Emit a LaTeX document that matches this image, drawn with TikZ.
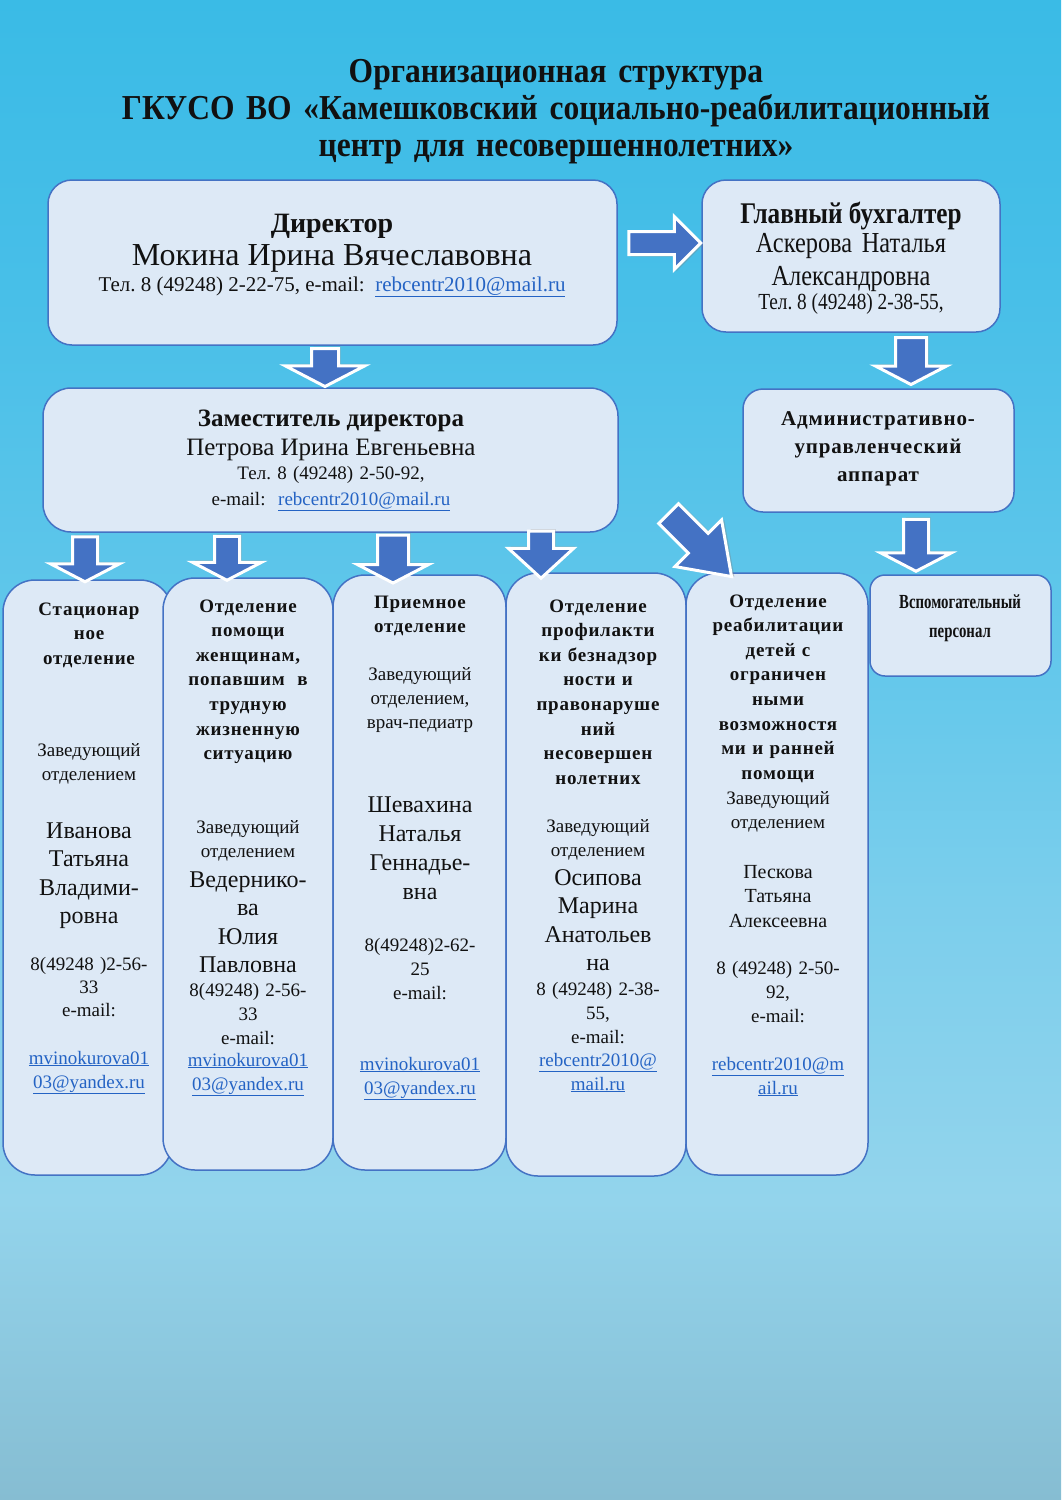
\documentclass[tikz,border=0pt]{standalone}
\usepackage{fontspec}
\setmainfont{Liberation Serif}
\newfontfamily\condfont{Liberation Serif}[FakeStretch=0.84]
\newfontfamily\titlefont{Liberation Serif}[FakeStretch=0.9]
\newfontfamily\narrowfont{Liberation Serif}[FakeStretch=0.74]
\newfontfamily\spacedfont{Liberation Serif}[LetterSpace=4]
\usetikzlibrary{shapes.arrows, shadows, fit}
\definecolor{ink}{HTML}{111111}
\definecolor{boxfill}{HTML}{DDE9F6}
\definecolor{boxline}{HTML}{4472C4}
\definecolor{arrblue}{HTML}{4472C4}
\definecolor{link}{HTML}{2463C4}
\definecolor{bgtop}{HTML}{3ABBE6}
\definecolor{bgup}{HTML}{48BFE8}
\definecolor{bgmid}{HTML}{68C9EB}
\definecolor{bglow}{HTML}{7BCEEC}
\definecolor{bgpale}{HTML}{93D4EC}
\definecolor{bgbot}{HTML}{86BDD2}
\pgfdeclareverticalshading{bgshade}{100bp}{color(0bp)=(bgbot); color(25bp)=(bgbot);
  color(35bp)=(bgpale); color(45bp)=(bglow); color(51bp)=(bgmid); color(65bp)=(bgup);
  color(75bp)=(bgtop); color(100bp)=(bgtop)}
\newcommand\fsz[2]{\fontsize{#1}{#2}\selectfont}
\newcommand\mail[1]{\textcolor{link}{\underline{#1}}}
\tikzset{
  box/.style={draw=boxline, fill=boxfill, line width=1.5pt, rounded corners=24pt, inner sep=0pt},
  colbox/.style={box, rounded corners=32pt},
  txt/.style={text=ink, inner sep=0pt, anchor=base, align=center},
  coltxt/.style={txt, text width=180pt},
  colhead/.style={coltxt, font=\spacedfont\bfseries\fsz{19}{24.6}},
  colbody/.style={coltxt, font=\fsz{19}{24}},
  person/.style={coltxt, font=\fsz{24}{28.6}},
  blk/.style={single arrow, fill=arrblue, draw=white, line width=3pt, inner xsep=0pt,
    single arrow head indent=0pt},
  downblk/.style={blk, rotate=-90,
    drop shadow={shadow xshift=2pt, shadow yshift=2pt, opacity=0.35}}
}

\begin{document}
\begin{tikzpicture}[x=1pt,y=-1pt]

\useasboundingbox (0,0) rectangle (1061,1500);
\fill[shading=bgshade] (0,0) rectangle (1061,1500);

% Title
\node[txt, text width=1000pt, font=\titlefont\bfseries\fsz{35}{37}] (title) at (556,82)
  {Организационная структура\\
   ГКУСО ВО «Камешковский социально-реабилитационный\\
   центр для несовершеннолетних»};

% Top level
\node[box, fit={(48,180) (617,345)}] (dir) {};
\node[txt, font=\bfseries\fsz{28}{30}] (dirt) at (332,232) {Директор};
\node[txt, font=\fsz{32}{33}] (dirn) at (332,265) {Мокина Ирина Вячеславовна};
\node[txt, font=\fsz{21}{22}] (dirc) at (332,291)
  {Тел.\ 8 (49248) 2-22-75, e-mail:\ \ \mail{rebcentr2010@mail.ru}};

\node[box, fit={(702,180) (1000,332)}] (acc) {};
\node[txt, font=\condfont\bfseries\fsz{30}{30}] (acct) at (851,223) {Главный бухгалтер};
\node[txt, text width=280pt, font=\condfont\fsz{29}{33}] (accn) at (851,252)
  {Аскерова Наталья\\Александровна};
\node[txt, font=\condfont\fsz{23}{22}] (accc) at (851,309) {Тел.\ 8 (49248) 2-38-55,};

% Second level
\node[box, rounded corners=28pt, fit={(43,388) (618,532)}] (dep) {};
\node[txt, font=\bfseries\fsz{25}{28}] (dept) at (331,426) {Заместитель директора};
\node[txt, font=\fsz{25}{28}] (depn) at (331,455) {Петрова Ирина Евгеньевна};
\node[txt, font=\fsz{19}{26}, text width=400pt] (depc) at (331,479)
  {Тел.\ 8 (49248) 2-50-92,\\e-mail:\ \ \mail{rebcentr2010@mail.ru}};

\node[box, rounded corners=20pt, fit={(743,389) (1014,512)}] (adm) {};
\node[txt, text width=260pt, font=\spacedfont\bfseries\fsz{21}{28}] (admt) at (878,425)
  {Административно-\\управленческий\\аппарат};

\node[box, rounded corners=15pt, fit={(870,575) (1051,676)}] (aux) {};
\node[txt, text width=170pt, font=\narrowfont\bfseries\fsz{20}{29}] (auxt) at (960,608)
  {Вспомогательный\\персонал};

% Departments
\node[colbox, fit={(3,580) (172,1175)}] (stac) {};
\node[colhead] (stach) at (89,615) {Стационар\\ное\\отделение};
\node[colbody] (stacb) at (89,756) {Заведующий\\отделением};
\node[person] (stacn) at (89,838) {Иванова\\Татьяна\\Владими-\\ровна};
\node[colbody, font=\fsz{19}{23}] (stacp) at (89,970) {8(49248 )2-56-\\33\\e-mail:};
\node[colbody] (stacm) at (89,1064) {\mail{mvinokurova01}\\\mail{03@yandex.ru}};

\node[colbox, fit={(163,578) (333,1170)}] (women) {};
\node[colhead] (womenh) at (248,612)
  {Отделение\\помощи\\женщинам,\\попавшим\ \ в\\трудную\\жизненную\\ситуацию};
\node[colbody] (womenb) at (248,833) {Заведующий\\отделением};
\node[person] (womenn) at (248,887) {Ведернико-\\ва\\Юлия\\Павловна};
\node[colbody] (womenp) at (248,996) {8(49248) 2-56-\\33\\e-mail:};
\node[colbody] (womenm) at (248,1066) {\mail{mvinokurova01}\\\mail{03@yandex.ru}};

\node[colbox, fit={(333,575) (506,1170)}] (recep) {};
\node[colhead] (receph) at (420,608) {Приемное\\отделение};
\node[colbody] (recepb) at (420,680) {Заведующий\\отделением,\\врач-педиатр};
\node[person, font=\fsz{24}{29}] (recepn) at (420,812) {Шевахина\\Наталья\\Геннадье-\\вна};
\node[colbody] (recepp) at (420,951) {8(49248)2-62-\\25\\e-mail:};
\node[colbody] (recepm) at (420,1070) {\mail{mvinokurova01}\\\mail{03@yandex.ru}};

\node[colbox, fit={(506,573) (686,1176)}] (prev) {};
\node[colhead] (prevh) at (598,612)
  {Отделение\\профилакти\\ки безнадзор\\ности и\\правонаруше\\ний\\несовершен\\нолетних};
\node[colbody] (prevb) at (598,832) {Заведующий\\отделением};
\node[person] (prevn) at (598,885) {Осипова\\Марина\\Анатольев\\на};
\node[colbody] (prevp) at (598,995) {8 (49248) 2-38-\\55,\\e-mail:};
\node[colbody] (prevm) at (598,1066) {\mail{rebcentr2010@}\\\mail{mail.ru}};

\node[colbox, fit={(686,573) (868,1175)}] (rehab) {};
\node[colhead] (rehabh) at (778,607)
  {Отделение\\реабилитации\\детей с\\ограничен\\ными\\возможностя\\ми и ранней\\помощи};
\node[colbody] (rehabb) at (778,804) {Заведующий\\отделением};
\node[colbody, font=\fsz{20}{24.5}] (rehabn) at (778,878) {Пескова\\Татьяна\\Алексеевна};
\node[colbody] (rehabp) at (778,974) {8 (49248) 2-50-\\92,\\e-mail:};
\node[colbody] (rehabm) at (778,1070) {\mail{rebcentr2010@m}\\\mail{ail.ru}};

% Block arrows
\node[blk, minimum height=72pt, inner ysep=10pt, single arrow head extend=15pt,
  single arrow tip angle=90,
  drop shadow={shadow xshift=2pt, shadow yshift=-2pt, opacity=0.35}] (a-acc) at (659,243) {};
\node[downblk, minimum height=38pt, inner ysep=12pt, single arrow head extend=26pt,
  single arrow tip angle=125] (a-dep) at (325,364) {};
\node[downblk, minimum height=47pt, inner ysep=14pt, single arrow head extend=20pt,
  single arrow tip angle=125] (a-adm) at (911,357) {};
\node[downblk, minimum height=52pt, inner ysep=11pt, single arrow head extend=23pt,
  single arrow tip angle=125] (a-aux) at (916,542) {};
\node[downblk, minimum height=45pt, inner ysep=11pt, single arrow head extend=22pt,
  single arrow tip angle=125] (a-stac) at (85,556) {};
\node[downblk, minimum height=44pt, inner ysep=11pt, single arrow head extend=22pt,
  single arrow tip angle=125] (a-women) at (227,555) {};
\node[downblk, minimum height=48pt, inner ysep=14pt, single arrow head extend=20pt,
  single arrow tip angle=125] (a-recep) at (393,555) {};
\node[downblk, minimum height=47pt, inner ysep=11pt, single arrow head extend=20pt,
  single arrow tip angle=95] (a-prev) at (541,549) {};
\node[blk, rotate=-45, minimum height=89pt, inner ysep=12.5pt, single arrow head extend=19pt,
  single arrow tip angle=70,
  drop shadow={shadow xshift=2.8pt, shadow yshift=0pt, opacity=0.35}] (a-rehab) at (693,538) {};

\end{tikzpicture}
\end{document}
